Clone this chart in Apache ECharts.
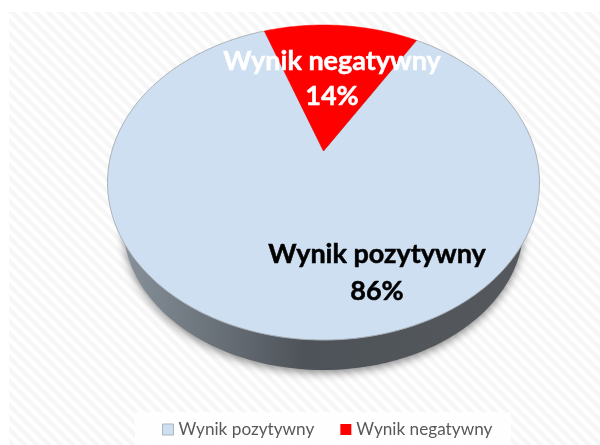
<!DOCTYPE html>
<html>
<head>
<meta charset="utf-8">
<style>html,body{margin:0;padding:0;background:#fff}#c{width:600px;height:445px}</style>
<script src="https://cdn.jsdelivr.net/npm/echarts@6/dist/echarts.min.js"></script>
</head>
<body>
<div id="c"></div>
<script>
const categories = ['Wynik pozytywny', 'Wynik negatywny'];
const shares = [86, 14];
const sliceColors = ['#cddff1', '#ff0000'];
const labelColors = ['#000000', '#ffffff'];
const labelCenters = [[377, 254, 291], [332, 61, 96]];

const firstSliceDeg = 31;
const CX = 323.5, PX = 211.6, PY0 = 151, PYA = 121, PERSP = 0.2;

function project(deg) {
  const t = deg * Math.PI / 180, u = Math.sin(t), v = Math.cos(t), w = 1 + PERSP * v;
  return [CX + PX * u / w, (PY0 - PYA * v) / w];
}
function slicePoints(from, to) {
  const pts = [];
  const n = Math.max(2, Math.ceil((to - from) * 1.5));
  for (let i = 0; i <= n; i++) pts.push(project(from + (to - from) * i / n));
  if (to - from < 360) pts.push([CX, PY0]);
  return pts;
}
function wallPoints() {
  const pts = [];
  for (let i = 0; i <= 360; i += 2) {
    const t = i * Math.PI / 180;
    pts.push([CX + 200 * Math.cos(t), 226 + 144 * Math.sin(t)]);
  }
  return pts;
}

const total = shares.reduce((a, b) => a + b, 0);
function sliceSeries(idx) {
  let start = firstSliceDeg;
  for (let i = 0; i < idx; i++) start += shares[i] / total * 360;
  return {
    type: 'custom',
    name: categories[idx],
    coordinateSystem: 'none',
    silent: true,
    z: 3 + idx,
    itemStyle: { color: sliceColors[idx] },
    data: [[shares[idx]]],
    renderItem: function (params, api) {
      const sweep = api.value(0) / total * 360;
      return {
        type: 'polygon',
        shape: { points: slicePoints(start, start + sweep) },
        style: { fill: sliceColors[idx], stroke: idx === 0 ? '#a9b0b6' : '#ff0000', lineWidth: idx === 0 ? 1 : 0.5 }
      };
    }
  };
}
function labelSeries(idx) {
  return {
    type: 'custom',
    name: 'label' + idx,
    coordinateSystem: 'none',
    silent: true,
    z: 10,
    data: [[shares[idx]]],
    renderItem: function (params, api) {
      const c = labelCenters[idx];
      const base = { fill: labelColors[idx], stroke: labelColors[idx], lineWidth: 0.5, font: 'bold 27px Lato', align: 'center', verticalAlign: 'middle' };
      return {
        type: 'group',
        children: [
          { type: 'text', style: Object.assign({ x: c[0], y: c[1], text: categories[idx] }, base) },
          { type: 'text', style: Object.assign({ x: c[0], y: c[2], text: api.value(0) + '%' }, base) }
        ]
      };
    }
  };
}

const tile = document.createElement('canvas');
tile.width = 12; tile.height = 12;
const g = tile.getContext('2d');
g.fillStyle = '#ffffff'; g.fillRect(0, 0, 12, 12);
g.strokeStyle = '#f6f6f6'; g.lineWidth = 4.5;
[[-12, -12, 12, 12], [0, -12, 24, 12], [-12, 0, 12, 24]].forEach(l => {
  g.beginPath(); g.moveTo(l[0], l[1]); g.lineTo(l[2], l[3]); g.stroke();
});

const chart = echarts.init(document.getElementById('c'), null, { renderer: 'canvas' });
chart.setOption({
  animation: false,
  backgroundColor: '#ffffff',
  graphic: [
    { type: 'rect', z: 0, silent: true, shape: { x: 9, y: 12, width: 591, height: 433 }, style: { fill: { image: tile, repeat: 'repeat' } } },
    { type: 'rect', z: 1, silent: true, shape: { x: 135, y: 412, width: 376, height: 33 }, style: { fill: 'rgba(255,255,255,0.85)' } }
  ],
  legend: {
    data: [
      { name: categories[0], itemStyle: { borderColor: '#a9b4bf', borderWidth: 1 } },
      { name: categories[1] }
    ],
    left: 157,
    top: 416,
    icon: 'rect',
    itemWidth: 11,
    itemHeight: 11,
    itemGap: 26,
    selectedMode: false,
    textStyle: { fontFamily: 'Lato', fontSize: 17.2, color: '#595959' },
    z: 6
  },
  series: [
    {
      type: 'custom',
      name: 'wall',
      coordinateSystem: 'none',
      silent: true,
      z: 2,
      data: [[1]],
      renderItem: function () {
        return {
          type: 'polygon',
          shape: { points: wallPoints() },
          style: {
            fill: new echarts.graphic.LinearGradient(0, 0, 1, 0, [
              { offset: 0, color: '#87919b' },
              { offset: 0.1, color: '#7a838b' },
              { offset: 0.45, color: '#4e5359' },
              { offset: 1, color: '#55595d' }
            ]),
            shadowColor: 'rgba(0,0,0,0.45)',
            shadowBlur: 9,
            shadowOffsetY: 3
          }
        };
      }
    },
    sliceSeries(0),
    sliceSeries(1),
    labelSeries(0),
    labelSeries(1)
  ]
});
</script>
</body>
</html>
